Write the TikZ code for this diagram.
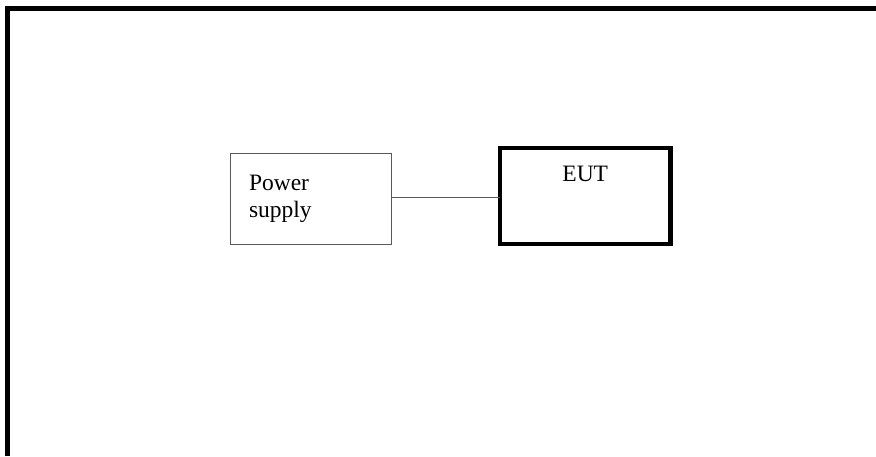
\documentclass[tikz,border=0pt]{standalone}
\usepackage{fontspec}
\setmainfont{Liberation Serif}
\usetikzlibrary{positioning}

\tikzset{
  frameline/.style={line width=4.6pt},
  psbox/.style={draw=black!65, line width=0.9pt, outer sep=0pt,
    minimum width=161pt, minimum height=90.5pt, inner xsep=19pt,
    text width=123pt, align=left},
  eutbox/.style={draw, line width=4.5pt, outer sep=0pt,
    minimum width=170.5pt, minimum height=96pt},
  wire/.style={draw=black!65, line width=0.9pt},
  lbl/.style={font=\fontsize{23.5}{27.5}\selectfont}
}

\begin{document}
\begin{tikzpicture}[x=1pt, y=-1pt]
\useasboundingbox (0,0) rectangle (876,456);

% outer frame, open at right and bottom
\draw[frameline] (7.5,456) -- (7.5,8.5) -- (876,8.5);

\node[psbox, lbl] (ps) at (310.5,198.75) {Power\\supply};
\node[eutbox] (eut) at (585.25,196) {};
\node[lbl, anchor=base] (euttitle) at ([yshift=-33.7pt]eut.north) {EUT};

\draw[wire] ([yshift=1.5pt]ps.east) -- ([yshift=1.5pt]ps.east -| eut.west);

\end{tikzpicture}
\end{document}
